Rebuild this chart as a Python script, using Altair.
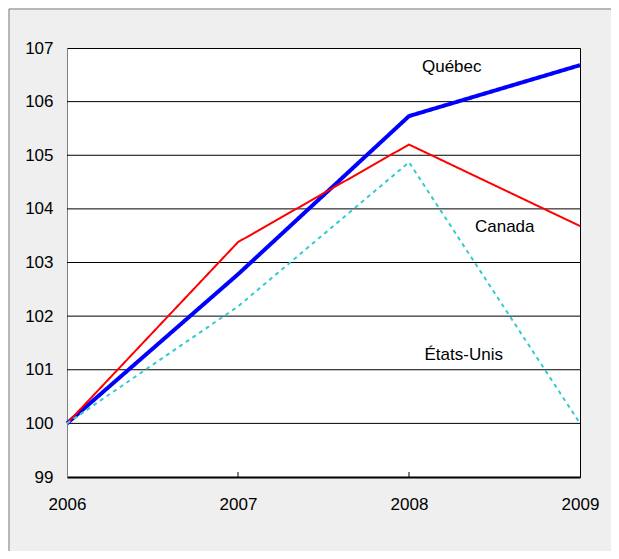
import altair as alt
import pandas as pd

years = [2006, 2007, 2008, 2009]
quebec = [100.0, 102.78, 105.73, 106.68]
canada = [100.0, 103.38, 105.2, 103.68]
usa = [100.0, 102.18, 104.87, 100.0]

series_names = ["Québec", "Canada", "États-Unis"]
series_colors = ["#0000ff", "#ff0000", "#33cccc"]
series_widths = [4, 2, 2]
series_dash = [[1, 0], [1, 0], [4, 4]]

label_x = [2008.25, 2008.56, 2008.32]
label_y = [106.64, 103.66, 101.27]

rows = []
for name, vals in zip(series_names, [quebec, canada, usa]):
    for yr, v in zip(years, vals):
        rows.append({"year": yr, "value": v, "series": name})
df = pd.DataFrame(rows)
labels = pd.DataFrame({"x": label_x, "y": label_y, "text": series_names})

FONT = "Liberation Sans"
FS = 17
xscale = alt.Scale(domain=[2006, 2009], nice=False, zero=False)
yscale = alt.Scale(domain=[99, 107], nice=False, zero=False)

base = alt.Chart(df)

frame = alt.Chart(pd.DataFrame({"a": [0]})).mark_rect(
    fill=None, stroke="#808080", strokeWidth=1, clip=False
).encode(
    x=alt.value(-58), x2=alt.value(700), y=alt.value(-39), y2=alt.value(700)
)

grid = alt.Chart(pd.DataFrame({"v": [100, 101, 102, 103, 104, 105, 106]})).mark_rule(
    color="#000000", strokeWidth=1
).encode(y=alt.Y("v:Q", scale=yscale))

ticks = alt.Chart(pd.DataFrame({"yr": [2007, 2008]})).mark_rule(
    color="#000000", strokeWidth=1
).encode(
    x=alt.X("yr:Q", scale=xscale),
    y=alt.value(429),
    y2=alt.value(424),
)

layers = []
for name, col, w, d in zip(series_names, series_colors, series_widths, series_dash):
    layers.append(
        base.transform_filter(alt.datum.series == name)
        .mark_line(color=col, strokeWidth=w, strokeDash=d)
        .encode(
            x=alt.X(
                "year:Q",
                scale=xscale,
                axis=alt.Axis(
                    values=years,
                    format="d",
                    title=None,
                    grid=False,
                    ticks=False,
                    domainColor="#000000",
                    domainWidth=2,
                    labelFontSize=FS,
                    labelFont=FONT,
                    labelColor="#000000",
                    labelPadding=19,
                    labelFlush=False,
                ),
            ),
            y=alt.Y(
                "value:Q",
                scale=yscale,
                axis=alt.Axis(
                    values=list(range(99, 108)),
                    title=None,
                    grid=False,
                    ticks=False,
                    domainColor="#808080",
                    domainWidth=1,
                    labelFontSize=FS,
                    labelFont=FONT,
                    labelColor="#000000",
                    labelPadding=14,
                ),
            ),
        )
    )

text = alt.Chart(labels).mark_text(
    font=FONT, fontSize=FS, color="#000000"
).encode(
    x=alt.X("x:Q", scale=xscale),
    y=alt.Y("y:Q", scale=yscale),
    text="text:N",
)

chart = alt.layer(frame, grid, ticks, *layers, text).properties(
    width=513,
    height=429,
    autosize=alt.AutoSizeParams(type="none"),
    padding={"left": 59, "top": 40, "right": 31, "bottom": 74},
    background="#efefef",
).configure_view(
    fill="#ffffff", stroke="#000000", strokeWidth=1
)

chart.save("out.html", embed_options={"renderer": "svg", "actions": False})
